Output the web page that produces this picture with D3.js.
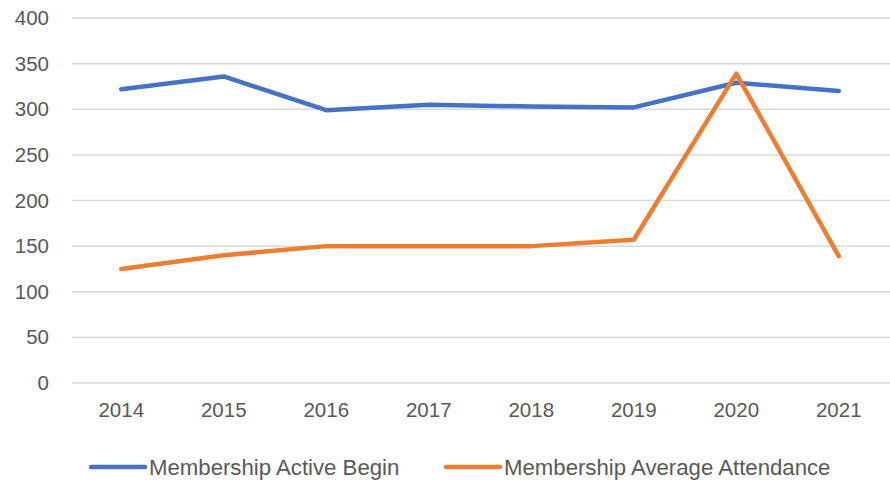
<!DOCTYPE html>
<html>
<head>
<meta charset="utf-8">
<script src="https://cdn.jsdelivr.net/npm/d3@7"></script>
<style>
  body { margin: 0; background: #fff; }
  text { font-family: "Liberation Sans", Arial, sans-serif; fill: #595959; }
</style>
</head>
<body>
<div id="chart"></div>
<script>
// data
var years = ["2014", "2015", "2016", "2017", "2018", "2019", "2020", "2021"];
var activeBegin = [322, 336, 299, 305, 303, 302, 329, 320];
var avgAttendance = [125, 140, 150, 150, 150, 157, 339, 139];
var yTicks = [0, 50, 100, 150, 200, 250, 300, 350, 400];
var seriesNames = ["Membership Active Begin", "Membership Average Attendance"];
var seriesColors = ["#4472C4", "#ED7D31"];

var svgWidth = 890;
var svgHeight = 482;

// plot area
var margin = { top: 18, right: 0, bottom: 99, left: 70 };
var chartWidth = svgWidth - margin.left - margin.right;
var chartHeight = svgHeight - margin.top - margin.bottom;

var svg = d3.select("#chart")
  .append("svg")
  .attr("width", svgWidth)
  .attr("height", svgHeight);

var chartGroup = svg.append("g")
  .attr("transform", `translate(${margin.left}, ${margin.top})`);

var xScale = d3.scaleBand()
  .domain(years)
  .range([0, chartWidth]);

var yScale = d3.scaleLinear()
  .domain([0, 400])
  .range([chartHeight, 0]);

// gridlines
chartGroup.selectAll(".grid")
  .data(yTicks)
  .enter()
  .append("line")
  .attr("x1", 2)
  .attr("x2", chartWidth)
  .attr("y1", d => yScale(d))
  .attr("y2", d => yScale(d))
  .attr("stroke", "#d9d9d9")
  .attr("stroke-width", 1.5);

// y axis labels
var leftAxis = d3.axisLeft(yScale).tickValues(yTicks).tickSize(0).tickPadding(21);
var yAxis = chartGroup.append("g").call(leftAxis);
yAxis.select(".domain").remove();
yAxis.selectAll("text")
  .attr("font-size", 20.5)
  .attr("fill", "#595959");

// x axis labels
var bottomAxis = d3.axisBottom(xScale).tickSize(0).tickPadding(19);
var xAxis = chartGroup.append("g")
  .attr("transform", `translate(0, ${chartHeight})`)
  .call(bottomAxis);
xAxis.select(".domain").remove();
xAxis.selectAll("text")
  .attr("font-size", 20.5)
  .attr("fill", "#595959");
svg.selectAll(".tick text").attr("font-family", null);

// lines
var line = d3.line()
  .x((d, i) => xScale(years[i]) + xScale.bandwidth() / 2)
  .y(d => yScale(d));

[activeBegin, avgAttendance].forEach(function(values, i) {
  chartGroup.append("path")
    .datum(values)
    .attr("fill", "none")
    .attr("stroke", seriesColors[i])
    .attr("stroke-width", 4.5)
    .attr("stroke-linejoin", "round")
    .attr("stroke-linecap", "round")
    .attr("d", line);
});

// legend
var legendX = [91, 446];
var legend = svg.append("g").attr("transform", "translate(0, 467)");
seriesNames.forEach(function(name, i) {
  legend.append("line")
    .attr("x1", legendX[i])
    .attr("x2", legendX[i] + 54)
    .attr("stroke", seriesColors[i])
    .attr("stroke-width", 4.5)
    .attr("stroke-linecap", "round");
  legend.append("text")
    .attr("x", legendX[i] + 58)
    .attr("dy", "0.35em")
    .attr("font-size", 22.2)
    .text(name);
});
</script>
</body>
</html>
